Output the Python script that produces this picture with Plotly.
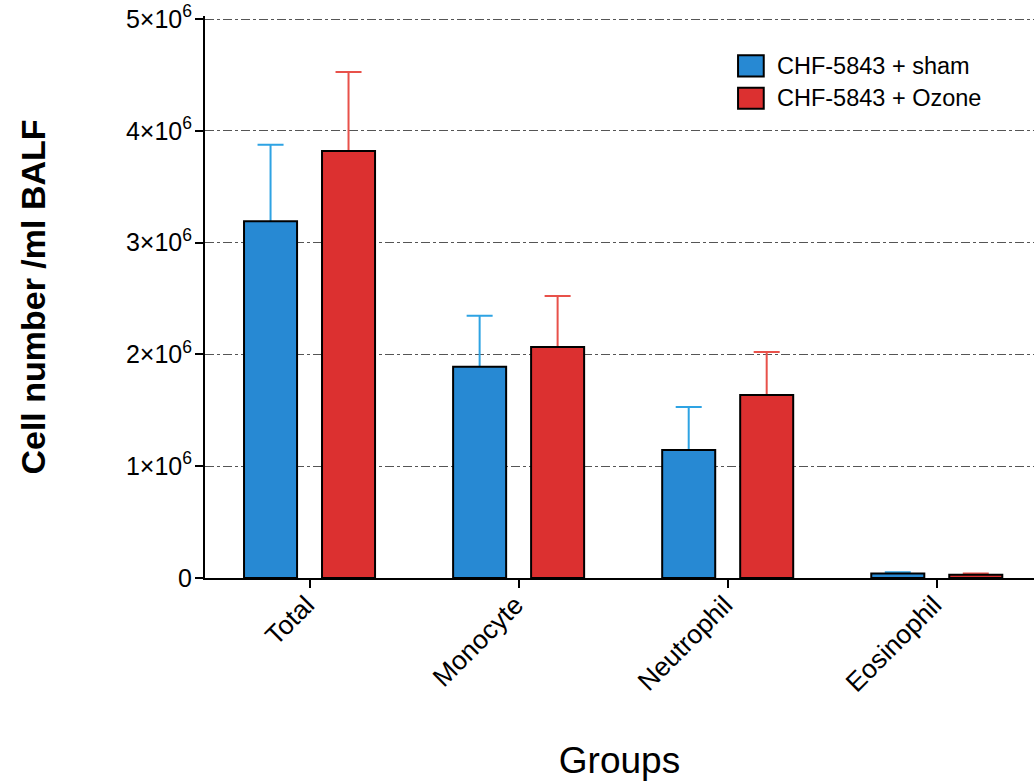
import plotly.graph_objects as go

categories = ["Total", "Monocyte", "Neutrophil", "Eosinophil"]
sham_vals = [3.19e6, 1.89e6, 1.145e6, 0.04e6]
sham_err = [0.685e6, 0.455e6, 0.385e6, 0.012e6]
ozone_vals = [3.82e6, 2.066e6, 1.637e6, 0.028e6]
ozone_err = [0.707e6, 0.456e6, 0.385e6, 0.012e6]
series_names = ["CHF-5843 + sham", "CHF-5843 + Ozone"]
ytick_vals = [0, 1e6, 2e6, 3e6, 4e6, 5e6]
ytick_text = ["0", "1×10<sup>6</sup>", "2×10<sup>6</sup>", "3×10<sup>6</sup>",
              "4×10<sup>6</sup>", "5×10<sup>6</sup>"]

FONT = "Liberation Sans, Arial, Helvetica, sans-serif"
BLUE = "#2789d3"
RED = "#dc3030"
BLUE_ERR = "#2ea3e3"
RED_ERR = "#e8514a"

fig = go.Figure()
# error bars (drawn first, bars overlay them)
for vals, errs, ecol, og in [(sham_vals, sham_err, BLUE_ERR, "a"),
                             (ozone_vals, ozone_err, RED_ERR, "b")]:
    fig.add_trace(go.Bar(
        x=categories, y=vals, offsetgroup=og, showlegend=False, hoverinfo="skip",
        marker=dict(color="rgba(0,0,0,0)", line=dict(width=0)),
        error_y=dict(type="data", array=errs, symmetric=True,
                     color=ecol, thickness=2, width=13),
    ))
for vals, col, og, nm in [(sham_vals, BLUE, "a", series_names[0]),
                          (ozone_vals, RED, "b", series_names[1])]:
    fig.add_trace(go.Bar(
        x=categories, y=vals, offsetgroup=og, name=nm, showlegend=False,
        marker=dict(color=col, line=dict(color="black", width=2)),
    ))

# manual legend (large swatches as in the reference)
leg_items = [(BLUE, series_names[0], 0.930, 0.8925),
             (RED, series_names[1], 0.8725, 0.835)]
for col, nm, ytop, ybot in leg_items:
    fig.add_shape(type="rect", xref="paper", yref="paper",
                  x0=0.643, x1=0.674, y0=ybot, y1=ytop,
                  fillcolor=col, line=dict(color="black", width=2))
    fig.add_annotation(xref="paper", yref="paper", x=0.688, y=(ytop + ybot) / 2,
                       xanchor="left", yanchor="middle", showarrow=False,
                       text=nm, font=dict(size=23.5, family=FONT, color="black"))

fig.update_layout(
    width=1034, height=781,
    margin=dict(l=205, r=0, t=16, b=203),
    paper_bgcolor="white", plot_bgcolor="white",
    barmode="group", bargap=0.254, bargroupgap=0.32,
    font=dict(family=FONT, color="black", size=25),
    showlegend=False,
)
fig.update_xaxes(
    automargin=False,
    range=[-0.5, 3.465],
    showline=True, linecolor="black", linewidth=2,
    ticks="outside", ticklen=8, tickwidth=2, tickcolor="black",
    tickangle=-45, tickfont=dict(size=26.5),
    ticklabelstandoff=-9, ticklabelshift=-3,
    showgrid=False,
    title=dict(text="Groups", font=dict(size=37), standoff=52),
)
fig.update_yaxes(
    automargin=False,
    range=[0, 5.0268e6],
    tickvals=ytick_vals, ticktext=ytick_text,
    showline=True, linecolor="black", linewidth=2,
    ticks="outside", ticklen=8, tickwidth=2, tickcolor="black",
    tickfont=dict(size=25), ticklabeloverflow="allow", ticklabelstandoff=-2,
    showgrid=True, gridcolor="#555555", gridwidth=1, griddash="dashdot",
    zeroline=False,
    title=dict(text="<b>Cell number /ml BALF</b>", font=dict(size=34), standoff=70),
)

fig.write_html("out.html", config={"displayModeBar": False},
               post_script="document.body.style.margin='0';document.body.style.overflow='hidden';")
